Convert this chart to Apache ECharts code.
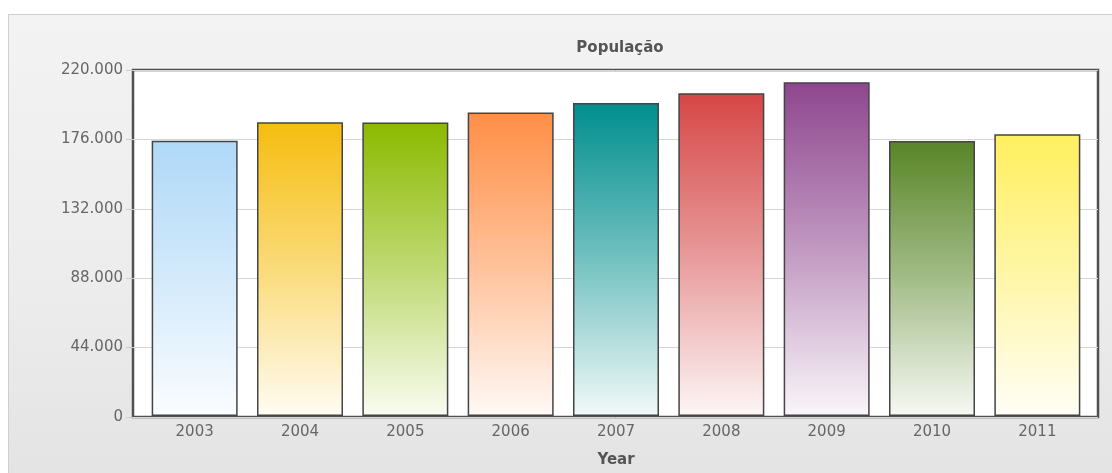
<!DOCTYPE html>
<html>
<head>
<meta charset="utf-8">
<script src="https://cdn.jsdelivr.net/npm/echarts@6/dist/echarts.min.js"></script>
<style>
  html, body { margin: 0; padding: 0; background: #ffffff; }
  #wrap { position: relative; width: 1112px; height: 473px; overflow: hidden; }
  #panel { position: absolute; left: 8px; top: 14px; width: 1110px; height: 470px;
           border-top: 1px solid #cfcfcf; border-left: 1px solid #cfcfcf;
           background: linear-gradient(to bottom, #f3f3f3 0%, #ececec 60%, #e3e3e3 100%); }
  #chart { position: absolute; left: 0; top: 0; width: 1112px; height: 473px; }
</style>
</head>
<body>
<div id="wrap"><div id="panel"></div><div id="chart"></div></div>
<script>
const years = ['2003', '2004', '2005', '2006', '2007', '2008', '2009', '2010', '2011'];
const population = [175000, 186800, 186600, 193000, 199000, 205200, 212200, 174900, 179200];
const barColors = ['#AFD8F8', '#F6BD0F', '#8BBA00', '#FF8E46', '#008E8E', '#D64646', '#8E468E', '#588526', '#FFEF5F'];
const yMin = 0, yMax = 220000, yStep = 44000;
const titleText = 'População';
const xName = 'Year';

function fmt(v) { return String(v).replace(/\B(?=(\d{3})+(?!\d))/g, '.'); }
function lighten(hex, t) {
  const n = parseInt(hex.slice(1), 16);
  const r = (n >> 16) & 255, g = (n >> 8) & 255, b = n & 255;
  const m = c => Math.round(c + (255 - c) * t);
  return 'rgb(' + m(r) + ',' + m(g) + ',' + m(b) + ')';
}

const chart = echarts.init(document.getElementById('chart'), null, { renderer: 'canvas' });
const font = 'DejaVu Sans, Verdana, sans-serif';
chart.setOption({
  backgroundColor: 'transparent',
  animation: false,
  title: {
    text: titleText, left: 615, top: 36, textAlign: 'center',
    textStyle: { fontFamily: font, fontSize: 15, fontWeight: 'bold', color: '#555555' }
  },
  grid: [
    { left: 133, right: 14, top: 70, bottom: 56, show: true, backgroundColor: '#ffffff',
      borderColor: '#505050', borderWidth: 2.5 },
    { left: 142, right: 22, top: 70, bottom: 56 }
  ],
  xAxis: [
    { type: 'category', gridIndex: 0, data: years, show: false },
    { type: 'category', gridIndex: 1, data: years,
      axisLine: { show: false }, axisTick: { show: false },
      axisLabel: { margin: 9, fontFamily: font, fontSize: 15, color: '#666666' },
      name: xName, nameLocation: 'middle', nameGap: 37,
      nameTextStyle: { fontFamily: font, fontSize: 15, fontWeight: 'bold', color: '#555555' } }
  ],
  yAxis: [
    { type: 'value', gridIndex: 0, min: yMin, max: yMax, interval: yStep,
      axisLine: { show: false },
      axisTick: { show: true, inside: false, length: 7, lineStyle: { color: '#cccccc' } },
      splitLine: { show: true, lineStyle: { color: '#d6d6d6', width: 1 } },
      axisLabel: { margin: 10, fontFamily: font, fontSize: 15, color: '#666666', formatter: fmt } },
    { type: 'value', gridIndex: 1, min: yMin, max: yMax, interval: yStep, show: false }
  ],
  series: [{
    type: 'bar', xAxisIndex: 1, yAxisIndex: 1, barWidth: 86,
    data: population.map((v, i) => ({
      value: v,
      itemStyle: {
        color: new echarts.graphic.LinearGradient(0, 0, 0, 1, [
          { offset: 0, color: barColors[i] },
          { offset: 0.5, color: lighten(barColors[i], 0.45) },
          { offset: 1, color: lighten(barColors[i], 0.95) }
        ]),
        borderColor: '#444444', borderWidth: 1.5
      }
    }))
  }]
});
</script>
</body>
</html>
